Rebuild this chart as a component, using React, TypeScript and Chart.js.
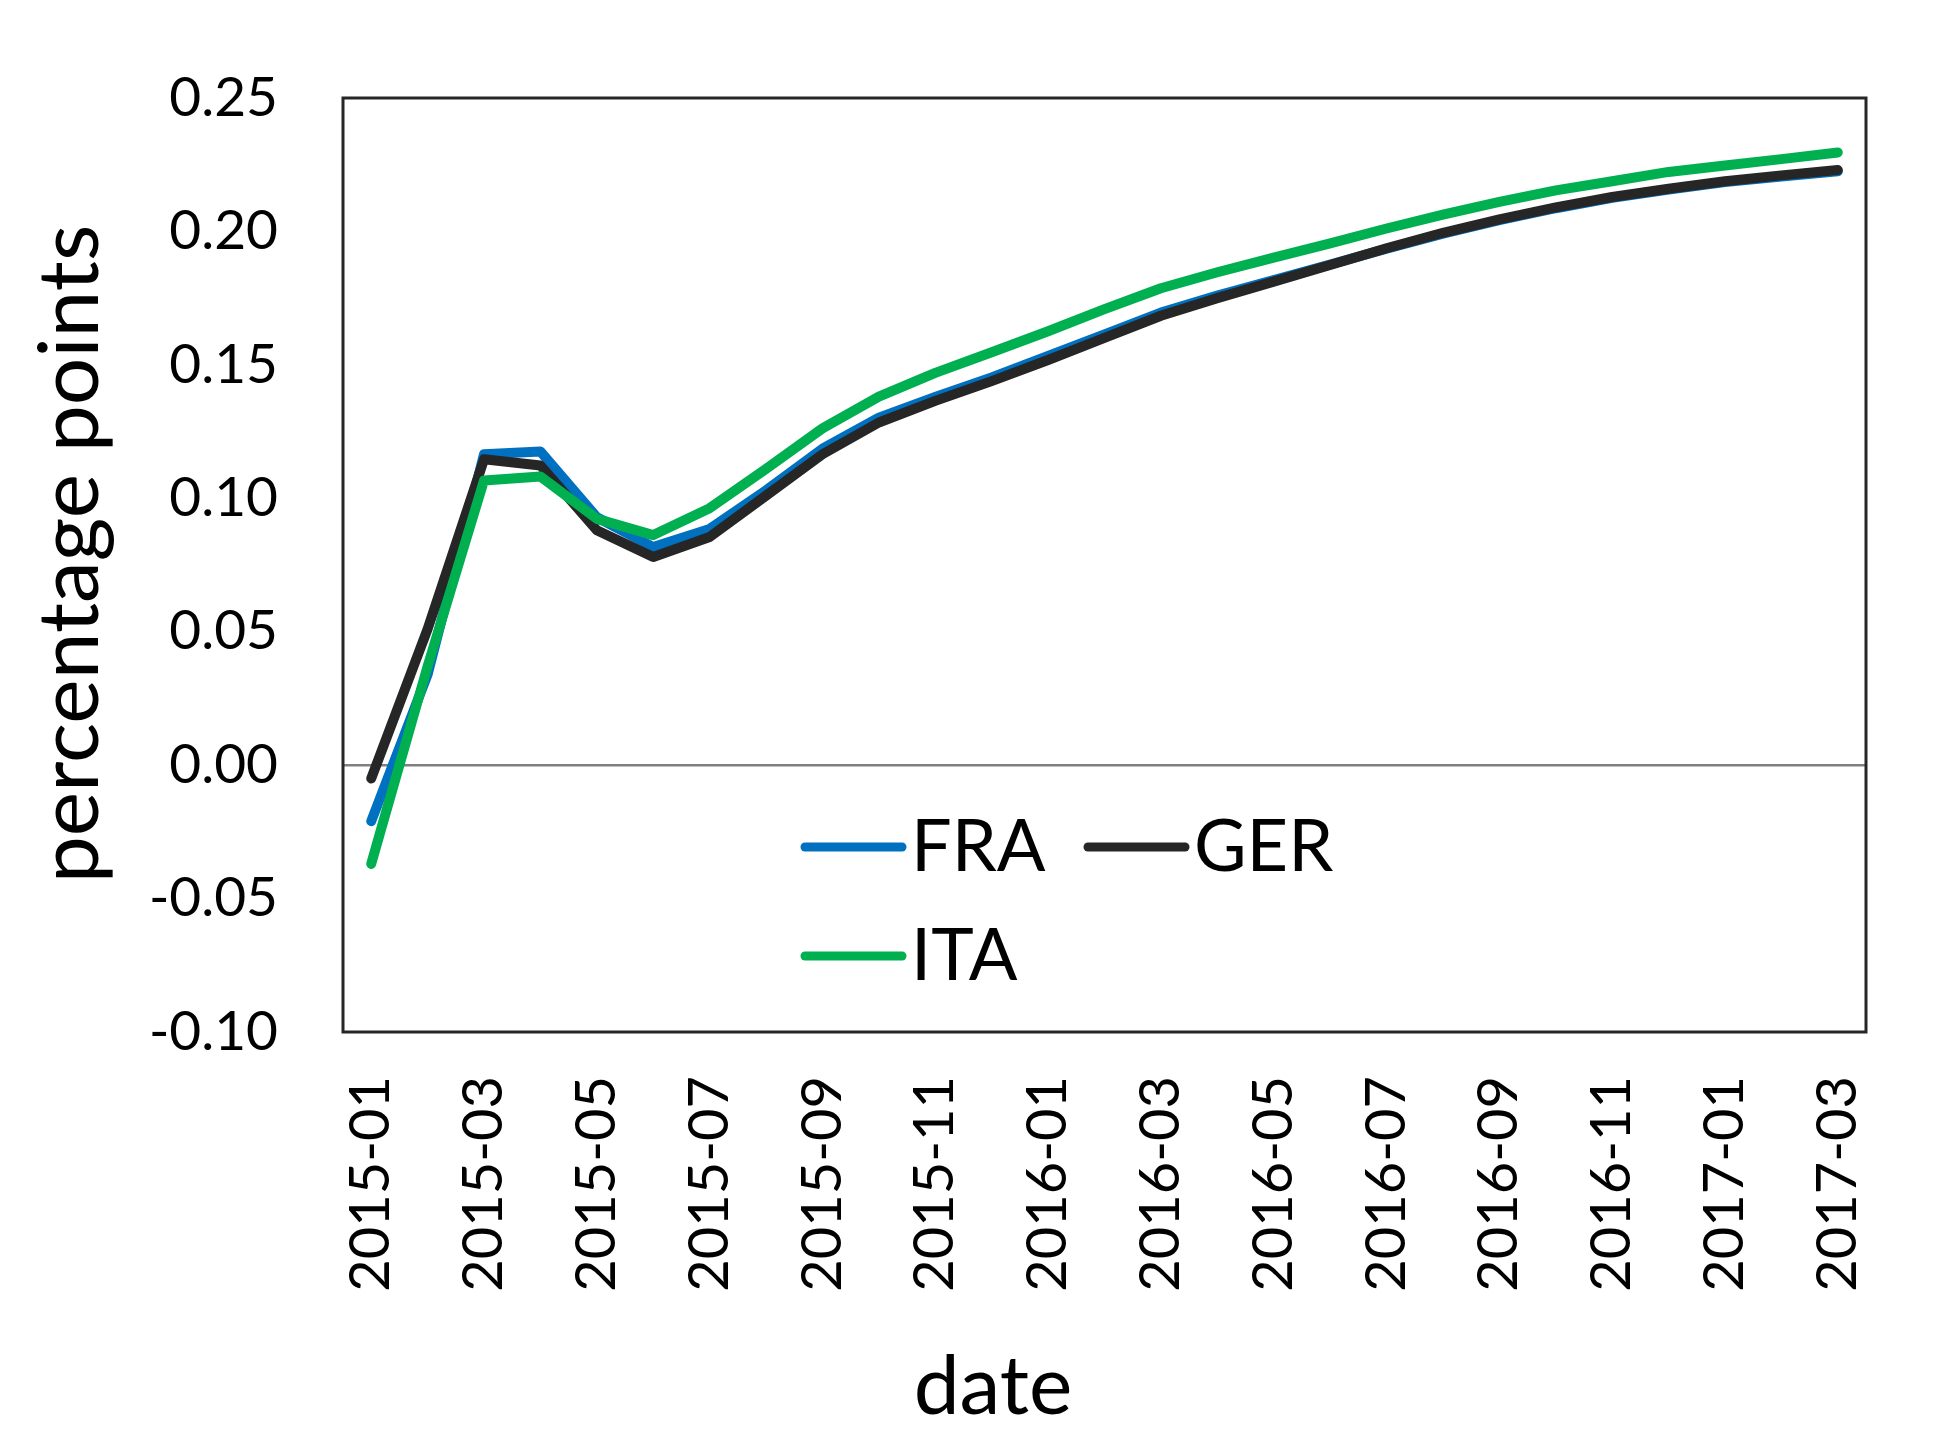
import React, { useEffect, useRef } from 'react';
import { Chart, ChartConfiguration, Plugin, registerables } from 'chart.js';

Chart.register(...registerables);

// Months shown on the x axis
const months: string[] = [
  '2015-01', '2015-02', '2015-03', '2015-04', '2015-05', '2015-06',
  '2015-07', '2015-08', '2015-09', '2015-10', '2015-11', '2015-12',
  '2016-01', '2016-02', '2016-03', '2016-04', '2016-05', '2016-06',
  '2016-07', '2016-08', '2016-09', '2016-10', '2016-11', '2016-12',
  '2017-01', '2017-02', '2017-03',
];

const fraValues: number[] = [
  -0.021, 0.034, 0.1165, 0.1175, 0.0929, 0.0817, 0.0885, 0.103, 0.1186,
  0.1302, 0.138, 0.1453, 0.1533, 0.1614, 0.1696, 0.176, 0.1818, 0.1876,
  0.1935, 0.1992, 0.2042, 0.2087, 0.2126, 0.2157, 0.2185, 0.2206, 0.2225,
];

const gerValues: number[] = [
  -0.005, 0.051, 0.1146, 0.1123, 0.088, 0.078, 0.0855, 0.101, 0.1165,
  0.1284, 0.1365, 0.1439, 0.1518, 0.1601, 0.1684, 0.175, 0.1812, 0.1874,
  0.1937, 0.1995, 0.2045, 0.209, 0.2129, 0.216, 0.2188, 0.221, 0.223,
];

const itaValues: number[] = [
  -0.037, 0.037, 0.1067, 0.1082, 0.0923, 0.0862, 0.0963, 0.111, 0.1262,
  0.1381, 0.147, 0.1547, 0.1626, 0.1709, 0.1787, 0.1847, 0.1902, 0.1955,
  0.2011, 0.2063, 0.2111, 0.2154, 0.2188, 0.2223, 0.2247, 0.2271, 0.2296,
];

const yTitle = 'percentage points';
const xTitle = 'date';

const FONT = 'Lato, "Noto Sans", sans-serif';

// Frame, in-plot legend and axis titles drawn on top of the chart
const decorations: Plugin<'line'> = {
  id: 'decorations',
  afterDraw(chart) {
    const { ctx, chartArea } = chart;
    const { left, top, right, bottom } = chartArea;
    ctx.save();

    // box around the plot area
    ctx.strokeStyle = '#262626';
    ctx.lineWidth = 3;
    ctx.strokeRect(left, top, right - left, bottom - top);

    // legend: two columns, FRA / GER on the first row, ITA below
    const slots = [
      { dx: 462, dy: 749 },
      { dx: 745, dy: 749 },
      { dx: 462, dy: 858 },
    ];
    ctx.font = `72px ${FONT}`;
    ctx.textAlign = 'left';
    ctx.textBaseline = 'alphabetic';
    chart.data.datasets.forEach((ds, i) => {
      const slot = slots[i];
      if (!slot) return;
      const x = left + slot.dx;
      const y = top + slot.dy;
      ctx.strokeStyle = ds.borderColor as string;
      ctx.lineWidth = 9;
      ctx.lineCap = 'round';
      ctx.beginPath();
      ctx.moveTo(x, y);
      ctx.lineTo(x + 97, y);
      ctx.stroke();
      ctx.fillStyle = '#000';
      ctx.fillText(ds.label ?? '', x + 106, y + 24);
    });

    // axis titles
    ctx.fillStyle = '#000';
    ctx.font = `82px ${FONT}`;
    ctx.textAlign = 'center';
    ctx.textBaseline = 'alphabetic';
    ctx.fillText(xTitle, 993, 1414);

    ctx.font = `84px ${FONT}`;
    ctx.translate(98, 554);
    ctx.rotate(-Math.PI / 2);
    ctx.fillText(yTitle, 0, 0);

    ctx.restore();
  },
};

const isZero = (v: number) => Math.abs(v) < 1e-9;

const App: React.FC = () => {
  const canvasRef = useRef<HTMLCanvasElement | null>(null);
  const chartRef = useRef<Chart<'line'> | null>(null);

  useEffect(() => {
    document.body.style.margin = '0';
    if (!canvasRef.current) return;
    if (chartRef.current) chartRef.current.destroy();

    const config: ChartConfiguration<'line'> = {
      type: 'line',
      data: {
        labels: months,
        datasets: [
          {
            label: 'FRA',
            data: fraValues,
            borderColor: '#0070C0',
            order: 3,
          },
          {
            label: 'GER',
            data: gerValues,
            borderColor: '#262626',
            order: 2,
          },
          {
            label: 'ITA',
            data: itaValues,
            borderColor: '#00B050',
            order: 1,
          },
        ],
      },
      options: {
        responsive: false,
        maintainAspectRatio: false,
        animation: false,
        devicePixelRatio: 1,
        layout: {
          padding: { top: 94, right: 80, left: 0, bottom: 0 },
        },
        elements: {
          point: { radius: 0 },
          line: {
            borderWidth: 10,
            tension: 0,
            borderCapStyle: 'round',
            borderJoinStyle: 'round',
          },
        },
        plugins: {
          legend: { display: false },
          tooltip: { enabled: false },
        },
        scales: {
          x: {
            offset: true,
            grid: { display: false },
            border: { display: false },
            afterFit: (scale) => {
              scale.height = 420;
            },
            ticks: {
              autoSkip: false,
              minRotation: 90,
              maxRotation: 90,
              padding: 36,
              color: '#000',
              font: { family: FONT, size: 56 },
              callback: (_value, index) => (index % 2 === 0 ? months[index] : ''),
            },
          },
          y: {
            min: -0.1,
            max: 0.25,
            border: { display: false },
            afterFit: (scale) => {
              scale.width = 343;
            },
            grid: {
              drawTicks: false,
              lineWidth: 2.5,
              color: (ctx) => (ctx.tick && isZero(ctx.tick.value) ? '#808080' : 'rgba(0,0,0,0)'),
            },
            ticks: {
              stepSize: 0.05,
              padding: 65,
              color: '#000',
              font: { family: FONT, size: 55 },
              callback: (value) => (isZero(Number(value)) ? 0 : Number(value)).toFixed(2),
            },
          },
        },
      },
      plugins: [decorations],
    };

    chartRef.current = new Chart(canvasRef.current, config);

    return () => {
      if (chartRef.current) {
        chartRef.current.destroy();
        chartRef.current = null;
      }
    };
  }, []);

  return (
    <div style={{ width: 1946, height: 1452, background: '#fff' }}>
      <canvas ref={canvasRef} width={1946} height={1452} />
    </div>
  );
};

export default App;
